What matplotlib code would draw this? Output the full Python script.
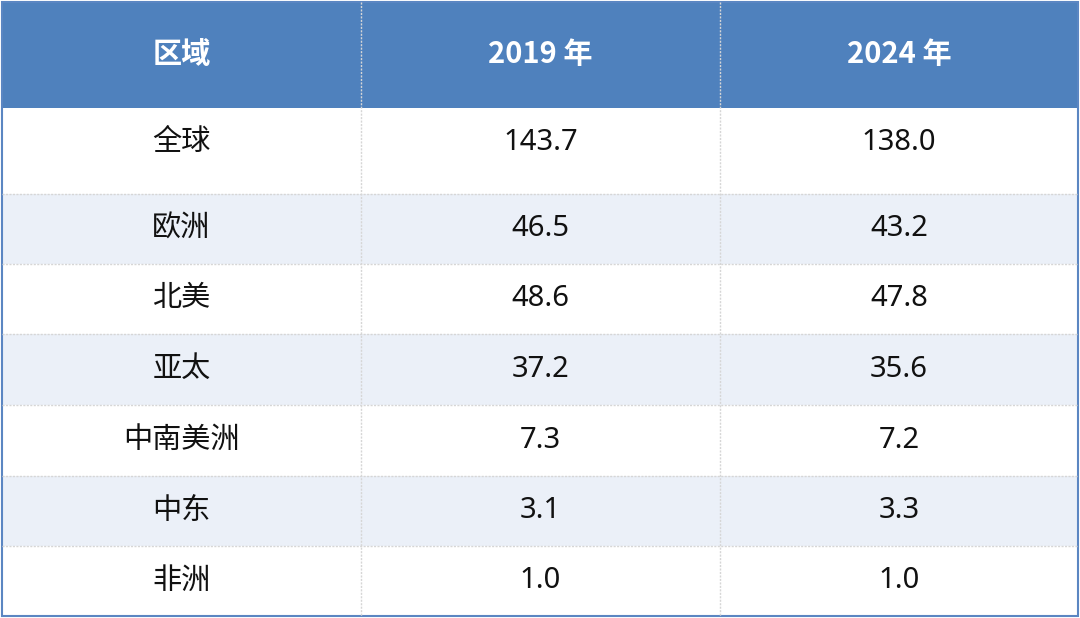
import matplotlib.pyplot as plt
from matplotlib.patches import Rectangle

plt.rcParams['font.family'] = ['Noto Sans', 'Noto Sans CJK SC', 'DejaVu Sans']

headers = ["区域", "2019 年", "2024 年"]
regions = ["全球", "欧洲", "北美", "亚太", "中南美洲", "中东", "非洲"]
values_2019 = [143.7, 46.5, 48.6, 37.2, 7.3, 3.1, 1.0]
values_2024 = [138.0, 43.2, 47.8, 35.6, 7.2, 3.3, 1.0]

# layout in pixels
W, H = 1080, 618
col_edges = [2, 361, 720, 1078]
row_edges = [2, 108, 194, 264, 334, 405, 476, 546, 616]
header_color = "#4f81bd"
stripe_color = "#ebf0f8"
grid_color = "#d6d6d6"

fig = plt.figure(figsize=(10.8, 6.18), dpi=100)
ax = fig.add_axes([0, 0, 1, 1])
ax.set_xlim(0, W)
ax.set_ylim(H, 0)
ax.axis("off")

# header
ax.add_patch(Rectangle((col_edges[0], row_edges[0]), col_edges[-1] - col_edges[0],
                       row_edges[1] - row_edges[0], color=header_color, lw=0))
for j, h in enumerate(headers):
    cx = (col_edges[j] + col_edges[j + 1]) / 2
    ax.text(cx, 54, h, ha="center", va="center", color="white",
            fontsize=21, fontweight="bold",
            family=['Noto Sans CJK SC', 'DejaVu Sans'])

# body rows
for i, (reg, a, b) in enumerate(zip(regions, values_2019, values_2024)):
    y0, y1 = row_edges[i + 1], row_edges[i + 2]
    if i % 2 == 1:
        ax.add_patch(Rectangle((col_edges[0], y0), col_edges[-1] - col_edges[0],
                               y1 - y0, color=stripe_color, lw=0))
    cy = (y0 + y1) / 2 if i > 0 else 142
    for j, txt in enumerate([reg, f"{a:.1f}", f"{b:.1f}"]):
        cx = (col_edges[j] + col_edges[j + 1]) / 2
        ax.text(cx, cy, txt, ha="center", va="center", color="#111111", fontsize=21)

# dotted grid lines
for y in row_edges[2:-1]:
    ax.plot([col_edges[0], col_edges[-1]], [y, y], color=grid_color, lw=1, ls=(0, (1.5, 1)))
for x in col_edges[1:-1]:
    ax.plot([x, x], [row_edges[0], row_edges[-1]], color=grid_color, lw=1, ls=(0, (1.5, 1)))

# outer border
ax.add_patch(Rectangle((col_edges[0], row_edges[0]), col_edges[-1] - col_edges[0],
                       row_edges[-1] - row_edges[0], fill=False,
                       edgecolor="#5b86c2", lw=1.5))

fig.savefig("out.png", dpi=100)
